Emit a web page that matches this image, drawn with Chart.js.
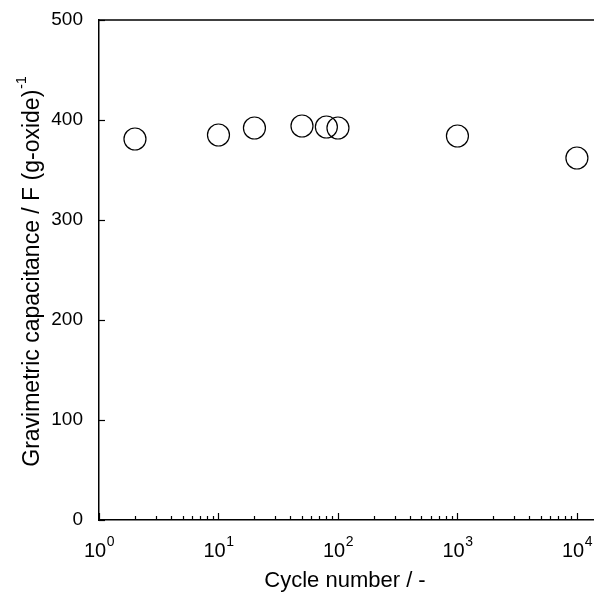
<!DOCTYPE html>
<html><head><meta charset="utf-8">
<script src="https://cdn.jsdelivr.net/npm/chart.js@4.4.1/dist/chart.umd.min.js"></script>
<style>html,body{margin:0;padding:0;background:#fff}#wrap{width:594px;height:594px}</style>
</head><body><div id="wrap"><canvas id="c" width="594" height="594"></canvas></div>
<script>
const cycles = [2, 10, 20, 50, 80, 100, 1000, 10000];
const capacitance = [381, 385, 392, 394, 393, 392, 384, 362];
const xDecades = [0, 1, 2, 3, 4];
const yTicks = [0, 100, 200, 300, 400, 500];
const xTitle = 'Cycle number / -';
const yTitle = 'Gravimetric capacitance / F (g-oxide)';
const yTitleSup = '-1';
const FONT = 'Liberation Sans, Arial, sans-serif';

const deco = {
  id: 'deco',
  afterDraw(chart) {
    const ctx = chart.ctx, xs = chart.scales.x, ys = chart.scales.y, a = chart.chartArea;
    ctx.save();
    ctx.strokeStyle = '#000'; ctx.lineWidth = 1.5;
    ctx.beginPath(); ctx.moveTo(a.left, a.top); ctx.lineTo(594, a.top); ctx.stroke();
    ctx.lineWidth = 1.2;
    xDecades.forEach(d => {
      for (let m = 1; m <= 9; m++) {
        const v = m * Math.pow(10, d);
        if (v > xs.max) break;
        const px = Math.round(xs.getPixelForValue(v)) + 0.5;
        const len = m === 1 ? 7 : 4;
        ctx.beginPath(); ctx.moveTo(px, a.bottom); ctx.lineTo(px, a.bottom - len); ctx.stroke();
      }
    });
    yTicks.forEach(v => {
      const py = Math.round(ys.getPixelForValue(v)) + 0.5;
      ctx.beginPath(); ctx.moveTo(a.left, py); ctx.lineTo(a.left + 6, py); ctx.stroke();
    });
    ctx.fillStyle = '#000';
    ctx.textBaseline = 'alphabetic';
    xDecades.forEach(d => {
      const px = xs.getPixelForValue(Math.pow(10, d));
      ctx.font = '20px ' + FONT;
      const wb = ctx.measureText('10').width;
      ctx.font = '14px ' + FONT;
      const ws = ctx.measureText(String(d)).width;
      const start = px - (wb + ws) / 2;
      ctx.font = '20px ' + FONT; ctx.textAlign = 'left';
      ctx.fillText('10', start, 557);
      ctx.font = '14px ' + FONT;
      ctx.fillText(String(d), start + wb + 0.5, 546);
    });
    ctx.font = '22px ' + FONT; ctx.textAlign = 'center';
    ctx.fillText(xTitle, 345, 587);
    ctx.translate(39, 272); ctx.rotate(-Math.PI / 2);
    ctx.font = '23px ' + FONT;
    const wm = ctx.measureText(yTitle).width;
    ctx.font = '14px ' + FONT;
    const wsup = ctx.measureText(yTitleSup).width;
    const s0 = -(wm + wsup) / 2;
    ctx.textAlign = 'left';
    ctx.font = '23px ' + FONT;
    ctx.fillText(yTitle, s0, 0);
    ctx.font = '14px ' + FONT;
    ctx.fillText(yTitleSup, s0 + wm + 1, -13);
    ctx.restore();
  }
};

new Chart(document.getElementById('c'), {
  type: 'scatter',
  data: { datasets: [{
    data: cycles.map((c, i) => ({ x: c, y: capacitance[i] })),
    pointStyle: 'circle', pointRadius: 11, pointHoverRadius: 11,
    borderColor: '#000', borderWidth: 1.2, backgroundColor: 'rgba(0,0,0,0)'
  }]},
  options: {
    responsive: false, animation: false, events: [],
    layout: { autoPadding: false, padding: { top: 20, right: 0, left: 0, bottom: 0 } },
    plugins: { legend: { display: false }, tooltip: { enabled: false } },
    scales: {
      x: {
        type: 'logarithmic', min: 1, max: 13900,
        grid: { display: false, drawTicks: false },
        border: { display: true, color: '#000', width: 1.5 },
        ticks: { display: false },
        afterFit: s => { s.height = 74; s.paddingLeft = 0; s.paddingRight = 0; }
      },
      y: {
        type: 'linear', min: 0, max: 500,
        grid: { display: false, drawTicks: false },
        border: { display: true, color: '#000', width: 1.5 },
        ticks: { stepSize: 100, color: '#000', padding: 16, font: { family: FONT, size: 19 } },
        afterFit: s => { s.width = 99; s.paddingTop = 0; s.paddingBottom = 0; }
      }
    }
  },
  plugins: [deco]
});
</script></body></html>
